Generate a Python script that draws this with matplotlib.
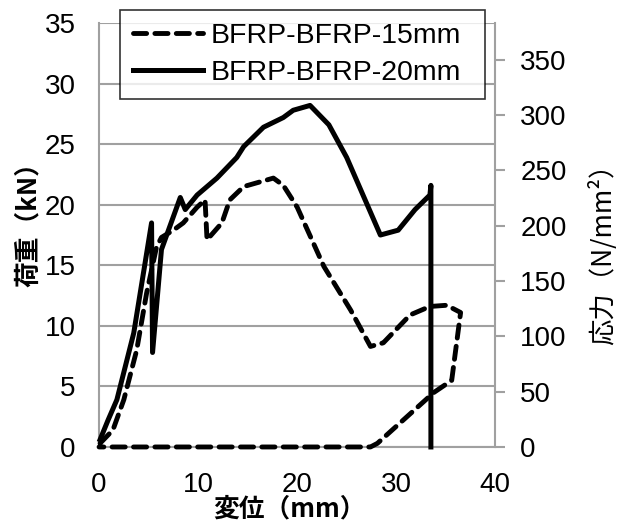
import matplotlib.pyplot as plt

plt.rcParams['font.family'] = ['Liberation Sans', 'Noto Sans CJK JP', 'DejaVu Sans']

# BFRP-BFRP-15mm (dashed)
x15 = [0.1, 1.4, 2.5, 3.8, 4.8, 5.8, 6.3, 7.5, 8.5, 9.9, 10.7, 10.9, 12.4, 13.2,
       14.6, 17.6, 18.6, 20.0, 22.7, 25.4, 27.4, 28.7, 31.4, 33.4, 35.1, 36.5,
       35.6, 33.8, 28.1, 27.4, 0.0]
y15 = [0.3, 1.4, 3.9, 8.0, 12.7, 16.5, 17.3, 17.9, 18.5, 19.8, 20.4, 17.1, 18.5, 20.4,
       21.5, 22.2, 21.6, 19.8, 14.9, 11.3, 8.3, 8.6, 10.9, 11.6, 11.7, 11.1,
       5.5, 4.5, 0.3, 0.0, 0.0]

# BFRP-BFRP-20mm (solid)
x20 = [0.1, 0.9, 1.8, 3.5, 5.3, 5.4, 6.3, 8.2, 8.7, 9.9, 11.9, 13.9, 14.6, 16.6,
       18.6, 19.6, 21.3, 23.2, 25.0, 28.4, 30.2, 31.9, 33.4, 33.5, 33.5]
y20 = [0.6, 2.2, 3.9, 9.4, 18.5, 7.8, 16.3, 20.6, 19.6, 20.8, 22.2, 23.9, 24.8, 26.4,
       27.2, 27.8, 28.2, 26.6, 23.9, 17.5, 17.9, 19.6, 20.8, 21.6, 0.0]

labels = ['BFRP-BFRP-15mm', 'BFRP-BFRP-20mm']
stress_max = 383  # right axis (N/mm2) at 35 kN

grey = '#a0a0a0'
cjk = ['Noto Sans CJK JP', 'DejaVu Sans']

fig = plt.figure(figsize=(6.23, 5.24), dpi=100)
ax = fig.add_axes([0.159, 0.147, 0.636, 0.809])

ax.plot(x15, y15, color='black', lw=3.5, linestyle=(0, (2.7, 1.7)),
        dash_capstyle='round', label=labels[0], clip_on=False, zorder=3)
ax.plot(x20, y20, color='black', lw=3.6, label=labels[1], clip_on=False, zorder=3)

ax.set_xlim(0, 40)
ax.set_ylim(0, 35)
ax.set_xticks(range(0, 41, 10))
ax.set_yticks(range(0, 36, 5))
ax.yaxis.grid(True, color=grey, lw=1.5)
ax.set_axisbelow(True)
for s in ['top', 'right']:
    ax.spines[s].set_visible(False)
for s in ['left', 'bottom']:
    ax.spines[s].set_color(grey)
    ax.spines[s].set_linewidth(1.5)
ax.tick_params(axis='both', length=0, labelsize=20)
ax.tick_params(axis='x', pad=18)
ax.tick_params(axis='y', pad=17)

ax.set_xlabel('変位（mm）', fontsize=18.5, fontweight='bold', family=cjk)
ax.xaxis.set_label_coords(0.48, -0.115)
ax.set_ylabel('荷重（kN）', fontsize=18.5, fontweight='bold', family=cjk)
ax.yaxis.set_label_coords(-0.145, 0.54)

ax2 = ax.twinx()
ax2.set_ylim(0, stress_max)
ax2.set_yticks(range(0, 351, 50))
for s in ['top', 'left', 'bottom']:
    ax2.spines[s].set_visible(False)
ax2.spines['right'].set_color(grey)
ax2.spines['right'].set_linewidth(1.5)
ax2.tick_params(axis='y', length=7, width=1.5, color=grey, labelsize=20, pad=11)
ax2.set_ylabel('応力（N/mm²）', fontsize=19, family=cjk)
ax2.yaxis.set_label_coords(1.235, 0.47)

leg = ax.legend(loc='upper left',
                bbox_to_anchor=(120 / 623, 1 - 10 / 524, 365 / 623, 0),
                bbox_transform=fig.transFigure, mode='expand', fontsize=20.5,
                frameon=True, fancybox=False, handlelength=2.45,
                handletextpad=0.28, borderpad=0.45, labelspacing=0.4,
                borderaxespad=0)
leg.get_frame().set_edgecolor('black')
leg.get_frame().set_linewidth(1.2)
leg.set_zorder(5)

plt.savefig('out.png', dpi=100)
plt.close()
